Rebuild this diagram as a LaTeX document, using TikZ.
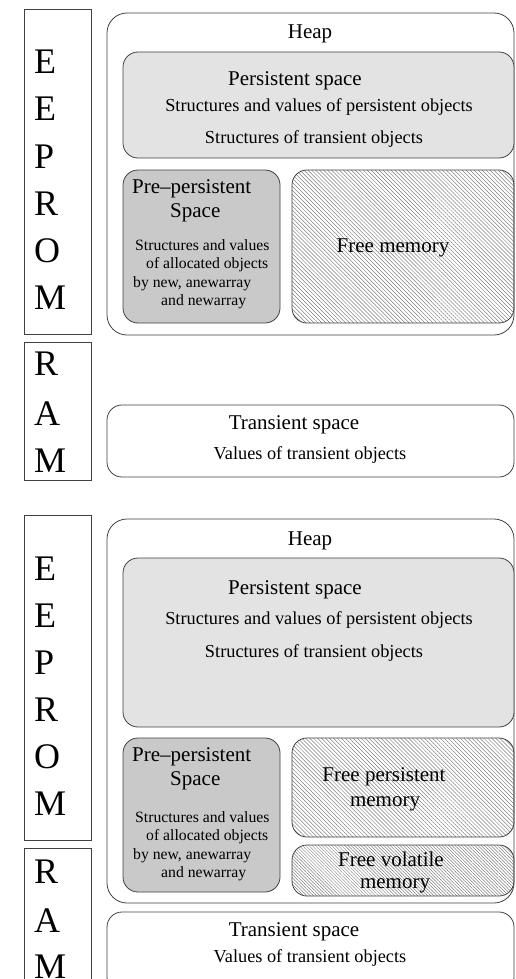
\documentclass[tikz,border=0pt]{standalone}
\usepackage{fontspec}
\setmainfont{Liberation Serif}
\usetikzlibrary{patterns.meta}
\tikzset{
  frame/.style={draw=black!75, line width=0.8pt, inner sep=0pt, outer sep=0pt, anchor=north west},
  chip/.style={frame},
  heapbox/.style={frame, rounded corners=20pt},
  spacebox/.style={frame, rounded corners=15pt},
  persist/.style={spacebox, fill=black!11},
  prepersist/.style={spacebox, fill=black!21},
  freemem/.style={spacebox, pattern={Lines[angle=-45,distance=2.8pt,line width=0.5pt]}, pattern color=black!50},
  freevol/.style={spacebox, pattern={Lines[angle=-45,distance=2.3pt,line width=0.5pt]}, pattern color=black!50},
  chipletter/.style={font=\fontsize{36}{36}\selectfont, anchor=base west, inner sep=0pt},
  title/.style={font=\fontsize{21}{21}\selectfont, anchor=base, inner sep=0pt},
  body/.style={font=\fontsize{18.3}{18}\selectfont, anchor=base, inner sep=0pt},
  small/.style={font=\fontsize{15.7}{16}\selectfont, anchor=base west, inner sep=0pt},
}
\begin{document}
\begin{tikzpicture}[x=1pt,y=-1pt]
\useasboundingbox (0,0) rectangle (516,979);

% ---------------- first layout ----------------
\node[chip, minimum width=67pt, minimum height=325pt] (eepromA) at (24,9) {};
\node[chip, minimum width=67pt, minimum height=138pt] (ramA) at (24,342) {};
\foreach \l/\b [count=\i] in {E/74,E/121,P/168,R/215,O/262,M/309}
  \node[chipletter] (eA\i) at (34,\b) {\l};
\foreach \l/\b [count=\i] in {R/375,A/425,M/472}
  \node[chipletter] (rA\i) at (34,\b) {\l};

\node[heapbox, minimum width=407pt, minimum height=322pt] (heapA) at (107,13) {};
\node[title] (heapAt) at (310,39) {Heap};

\node[persist, minimum width=391pt, minimum height=106pt] (persA) at (123,52) {};
\node[title] (persAt) at (295,86) {Persistent space};
\node[body] (persA1) at (319,112) {Structures and values of persistent objects};
\node[body] (persA2) at (314,143) {Structures of transient objects};

\node[prepersist, minimum width=157pt, minimum height=153pt] (preA) at (123,170) {};
\node[title, anchor=base west] (preAt1) at (132,193) {Pre\textendash persistent};
\node[title, anchor=base west] (preAt2) at (170,217) {Space};
\node[small] (preA1) at (135,250) {Structures and values};
\node[small] (preA2) at (146,268) {of allocated objects};
\node[small] (preA3) at (133,287) {by new, anewarray};
\node[small] (preA4) at (161,305) {and newarray};

\node[freemem, minimum width=222pt, minimum height=153pt] (freeA) at (292,170) {};
\node[title] (freeAt) at (393,252) {Free memory};

\node[spacebox, minimum width=407pt, minimum height=72pt] (tranA) at (107,405) {};
\node[title] (tranAt) at (294,429) {Transient space};
\node[body] (tranA1) at (310,459) {Values of transient objects};

% ---------------- second layout ----------------
\node[chip, minimum width=67pt, minimum height=325pt] (eepromB) at (24,515) {};
\node[chip, minimum width=67pt, minimum height=160pt] (ramB) at (24,848) {};
\foreach \l/\b [count=\i] in {E/580,E/627,P/674,R/721,O/768,M/815}
  \node[chipletter] (eB\i) at (34,\b) {\l};
\foreach \l/\b [count=\i] in {R/883,A/932,M/978}
  \node[chipletter] (rB\i) at (34,\b) {\l};

\node[heapbox, minimum width=407pt, minimum height=384pt] (heapB) at (107,519) {};
\node[title] (heapBt) at (310,545) {Heap};

\node[persist, minimum width=391pt, minimum height=169pt] (persB) at (123,558) {};
\node[title] (persBt) at (295,594) {Persistent space};
\node[body] (persB1) at (319,624) {Structures and values of persistent objects};
\node[body] (persB2) at (314,657) {Structures of transient objects};

\node[prepersist, minimum width=157pt, minimum height=154pt] (preB) at (123,738) {};
\node[title, anchor=base west] (preBt1) at (132,761) {Pre\textendash persistent};
\node[title, anchor=base west] (preBt2) at (170,785) {Space};
\node[small] (preB1) at (135,822) {Structures and values};
\node[small] (preB2) at (146,840) {of allocated objects};
\node[small] (preB3) at (133,859) {by new, anewarray};
\node[small] (preB4) at (161,877) {and newarray};

\node[freemem, minimum width=222pt, minimum height=99pt] (freeP) at (292,738) {};
\node[title] (freePt1) at (384,781) {Free persistent};
\node[title] (freePt2) at (385,806) {memory};

\node[freevol, minimum width=222pt, minimum height=51pt] (freeV) at (292,845) {};
\node[title] (freeVt1) at (391,866) {Free volatile};
\node[title] (freeVt2) at (395,888) {memory};

\node[spacebox, minimum width=407pt, minimum height=80pt] (tranB) at (107,912) {};
\node[title] (tranBt) at (294,936) {Transient space};
\node[body] (tranB1) at (310,962) {Values of transient objects};
\end{tikzpicture}
\end{document}
